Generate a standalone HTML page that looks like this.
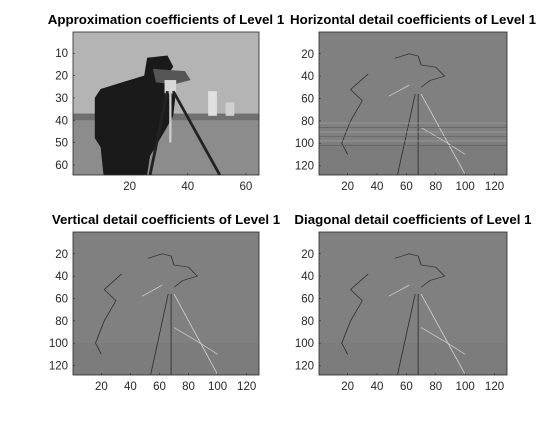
<!DOCTYPE html>
<html><head><meta charset="utf-8"><style>
body{margin:0;background:#fff;width:560px;height:423px;overflow:hidden;font-family:"Liberation Sans",Arial,sans-serif}
svg text{font-family:"Liberation Sans",Arial,sans-serif}
</style></head><body>
<svg id="fig" width="560" height="423" viewBox="0 0 560 423" xmlns="http://www.w3.org/2000/svg"></svg>
<script>
const titles = ["Approximation coefficients of Level 1","Horizontal detail coefficients of Level 1","Vertical detail coefficients of Level 1","Diagonal detail coefficients of Level 1"];
const sizes = [64,128,128,128];
const ticksApprox = [10,20,30,40,50,60];
const ticksApproxX = [20,40,60];
const ticksDetail = [20,40,60,80,100,120];
const boxes=[[73,32,186,143],[319,32,188,143],[73,232,186,143],[319,232,188,143]];
const NS="http://www.w3.org/2000/svg";
const fig=document.getElementById('fig');
function el(t,a,p){const e=document.createElementNS(NS,t);for(const k in a)e.setAttribute(k,a[k]);(p||fig).appendChild(e);return e;}
const names=['approximation','horizontal-detail','vertical-detail','diagonal-detail'];
boxes.forEach((b,i)=>{
  const [x,y,w,h]=b,n=sizes[i];
  const g=el('g',{});
  
  
  const img=el('svg',{x:x,y:y,width:w,height:h,viewBox:`0.5 0.5 ${n} ${n}`,preserveAspectRatio:'none'},g);
  
  
  if(i===0){
    el('rect',{x:0.5,y:0.5,width:64,height:40,fill:'#b4b4b4'},img);
    el('rect',{x:0.5,y:38,width:64,height:27,fill:'#8c8c8c'},img);
    el('rect',{x:0.5,y:37,width:64,height:3,fill:'#707070'},img);
    el('rect',{x:47,y:27,width:3,height:11,fill:'#e0e0e0'},img);
    el('rect',{x:53,y:32,width:3,height:6,fill:'#d0d0d0'},img);
    el('polygon',{points:'26,12 33,11 35,16 33,20 36,26 35,38 32,45 27,56 26,64.5 11,64.5 10,52 8,48 8,30 10,26 20,22 25,20',fill:'#1a1a1a'},img);
    el('polygon',{points:'28,17 39,18 41,22 35,24 29,23',fill:'#555'},img);
    el('rect',{x:32,y:22,width:4,height:6,fill:'#d8d8d8'},img);
    el('line',{x1:33,y1:27,x2:27,y2:64.5,stroke:'#222','stroke-width':1},img);
    el('line',{x1:34,y1:27,x2:34,y2:50,stroke:'#ccc','stroke-width':0.8},img);
    el('line',{x1:35,y1:27,x2:51,y2:64.5,stroke:'#222','stroke-width':1},img);
  } else {
    el('rect',{x:0.5,y:0.5,width:128,height:128,fill:'#808080'},img);
    el('rect',{x:0.5,y:100,width:128,height:28.5,fill:'#7c7c7c'},img);
    const s={stroke:'#303030',fill:'none','stroke-width':0.6};
    const s2={stroke:'#d0d0d0',fill:'none','stroke-width':0.6};
    el('polyline',Object.assign({points:'52,24 62,20 68,22 70,30 80,32 86,40 76,44 70,50'},s),img);
    el('polyline',Object.assign({points:'34,38 22,52 30,62 22,80 16,100 20,110'},s),img);
    el('polyline',Object.assign({points:'48,58 62,48'},s2),img);
    el('polyline',Object.assign({points:'66,56 54,128'},s),img);
    el('polyline',Object.assign({points:'70,56 100,128'},s2),img);
    el('polyline',Object.assign({points:'68,56 68,128'},s),img);
    el('polyline',Object.assign({points:'70,86 88,100 100,110'},s2),img);
    if(i===1){for(let k=0;k<6;k++)el('line',{x1:0.5,y1:82+k*4,x2:128,y2:82+k*4,stroke:k%2?'#606060':'#a0a0a0','stroke-width':0.6},img);}
  }
  el('rect',{x:x,y:y,width:w,height:h,fill:'none',stroke:'#262626','stroke-width':0.8},g);
  const t=el('text',{x:x+w/2,y:y-8,'text-anchor':'middle','font-size':'13.3','font-weight':'bold',fill:'#000'},g);
  t.textContent=titles[i];
  
  
  const yt=i===0?ticksApprox:ticksDetail, xt=i===0?ticksApproxX:ticksDetail;
  const sx=v=>x+(v-0.5)/n*w, sy=v=>y+(v-0.5)/n*h;
  yt.forEach(v=>{
    el('line',{x1:x,y1:sy(v),x2:x+2,y2:sy(v),stroke:'#262626','stroke-width':0.6},g);
    const l=el('text',{x:x-5,y:sy(v)+4,'text-anchor':'end','font-size':'11.5',fill:'#262626'},g);
    l.textContent=v;
    
    
  });
  xt.forEach(v=>{
    el('line',{x1:sx(v),y1:y+h,x2:sx(v),y2:y+h-2,stroke:'#262626','stroke-width':0.6},g);
    const l=el('text',{x:sx(v),y:y+h+15,'text-anchor':'middle','font-size':'11.5',fill:'#262626'},g);
    l.textContent=v;
    
    
  });
});
</script>
</body></html>
